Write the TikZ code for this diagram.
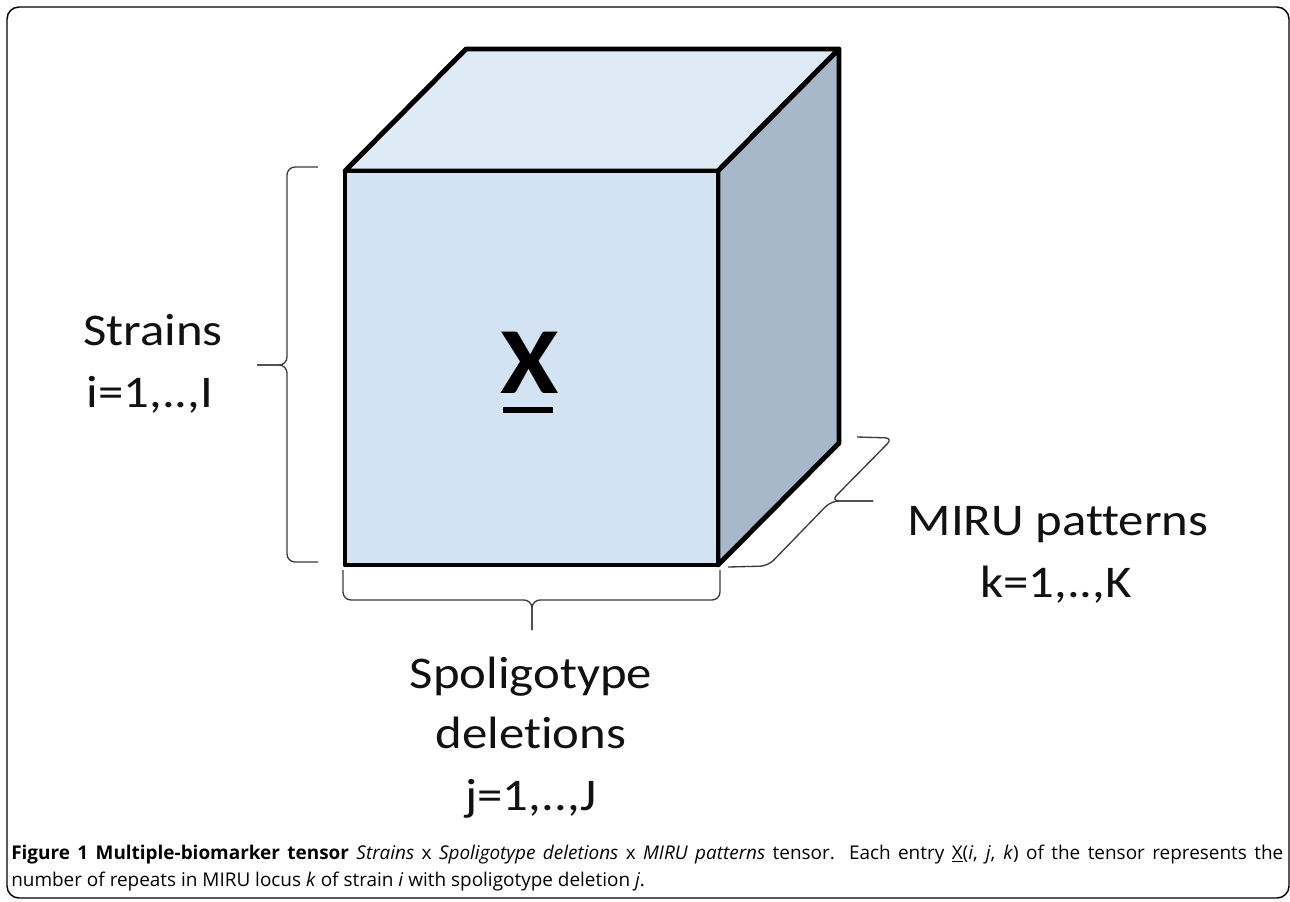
\documentclass[tikz,border=0pt]{standalone}
\usepackage{fontspec}
\setmainfont{Open Sans}
\newfontfamily\lblfont[FakeStretch=1.12, Ligatures=NoCommon]{Carlito}
\usetikzlibrary{positioning}
\definecolor{faceFront}{HTML}{D3E3F3}
\definecolor{faceTop}{HTML}{DEEBF7}
\definecolor{faceSide}{HTML}{A7B8CB}
\definecolor{braceGray}{HTML}{3A3A3A}
\definecolor{lblInk}{HTML}{111111}

\begin{document}
\begin{tikzpicture}[x=0.75pt,y=-0.75pt,
  face/.style={draw=black, line width=3.7pt, line join=round},
  brc/.style={draw=braceGray, line width=1pt, rounded corners=6pt},
  lbl/.style={font=\lblfont\fontsize{34}{40}\selectfont, color=lblInk, inner sep=0pt, anchor=base},
  frame/.style={draw=black, line width=1.1pt, rounded corners=9pt}]
\useasboundingbox (0,0) rectangle (1290,901);
\draw[frame] (7,7) rectangle (1289,898);
% cube corners: front face and the back edge
\coordinate (ftl) at (345,171); \coordinate (ftr) at (718,171);
\coordinate (fbr) at (718,565); \coordinate (fbl) at (345,565);
\coordinate (btl) at (466,49);  \coordinate (btr) at (839,49);
\coordinate (bbr) at (839,443);
\filldraw[face, fill=faceTop] (ftl) -- (btl) -- (btr) -- (ftr) -- cycle;
\filldraw[face, fill=faceSide] (ftr) -- (btr) -- (bbr) -- (fbr) -- cycle;
\filldraw[face, fill=faceFront] (ftl) rectangle (fbr);
\node[font=\lblfont\bfseries\fontsize{71}{71}\selectfont, inner sep=0pt, anchor=base] (xmark) at (530,393) {X};
\draw[line width=5pt] (503,410) -- (553,410);
% braces
\draw[brc] (318,167) -- (287,167) -- (287,365) -- (257,365);
\draw[brc] (257,365) -- (287,365) -- (287,562) -- (318,562);
\draw[brc] (343,570) -- (343,600) -- (532,600) -- (532,630);
\draw[brc] (532,630) -- (532,600) -- (720,600) -- (720,570);
\draw[brc] (728,567) -- (768,566) -- (831,501) -- (873,501);
\draw[brc] (873,501) -- (831,501) -- (893,438) -- (857,437);
% labels
\node[lbl] (strains) at (153,345) {Strains};
\node[lbl] (strainsIdx) at (150,407) {i=1,..,I};
\node[lbl] (spoli) at (531,688) {Spoligotype};
\node[lbl] (spoliDel) at (531,748) {deletions};
\node[lbl] (spoliIdx) at (531,810) {j=1,..,J};
\node[lbl] (miru) at (1058,535) {MIRU patterns};
\node[lbl] (miruIdx) at (1056,597) {k=1,..,K};
% caption
\node[anchor=north west, inner sep=0pt, text width=954pt, align=justify,
  font=\fontsize{14.2}{20.2}\selectfont] (caption) at (11,845)
  {\textbf{Figure 1 Multiple-biomarker tensor} \textit{Strains} x \textit{Spoligotype deletions} x \textit{MIRU patterns} tensor. Each entry \underline{X}(\textit{i}, \textit{j}, \textit{k}) of the tensor represents the\linebreak number of repeats in MIRU locus \textit{k} of strain \textit{i} with spoligotype deletion \textit{j}.};
\end{tikzpicture}
\end{document}
